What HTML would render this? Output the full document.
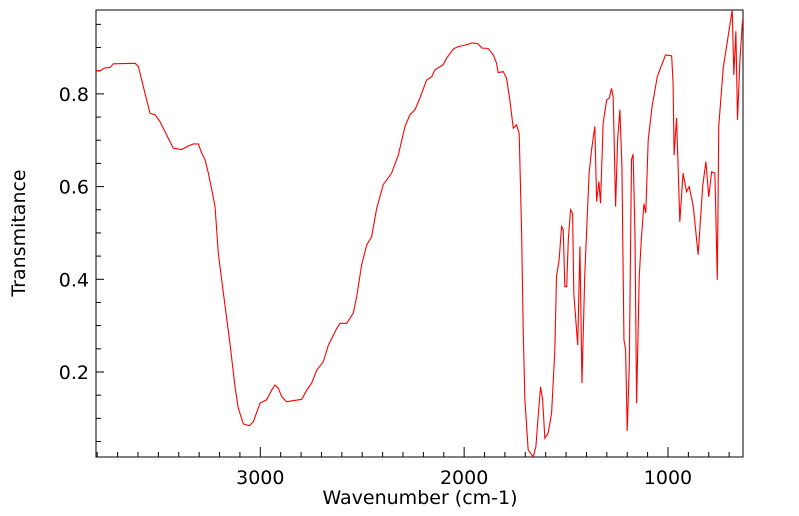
<!DOCTYPE html>
<html><head><meta charset="utf-8">
<style>
html,body{margin:0;padding:0;background:#fff;}
svg{display:block;font-family:"DejaVu Sans","Liberation Sans",sans-serif;}
</style></head>
<body>
<svg id="chart" width="799" height="516" viewBox="0 0 799 516" xmlns="http://www.w3.org/2000/svg">
<defs><clipPath id="plotclip"><rect x="96" y="10" width="647" height="447"/></clipPath></defs>
<rect x="96" y="10" width="647" height="447" fill="#fff" stroke="#000" stroke-width="1"/>
<g id="ticks"></g>
<g id="labels" font-size="19" fill="#000"></g>
<path id="line" fill="none" stroke="#ff0000" stroke-width="1.1" clip-path="url(#plotclip)"/>
<text x="420" y="504" text-anchor="middle" font-size="19">Wavenumber (cm-1)</text>
<text transform="translate(25,233) rotate(-90)" text-anchor="middle" font-size="19">Transmitance</text>
</svg>
<script>
const wavenumbers=[3811,3786,3762,3737,3721,3614,3598,3574,3541,3516,3492,3443,3427,3385,3361,3329,3304,3287,3271,3255,3238,3222,3206,3181,3149,3124,3108,3083,3054,3034,3001,2969,2944,2928,2912,2895,2871,2797,2772,2748,2723,2691,2666,2625,2609,2576,2544,2527,2503,2478,2454,2429,2397,2356,2323,2290,2266,2241,2217,2184,2159,2143,2103,2086,2053,2029,1988,1963,1931,1914,1882,1857,1841,1833,1808,1792,1775,1759,1743,1730,1718,1710,1702,1686,1661,1648,1637,1625,1615,1604,1588,1571,1555,1547,1534,1522,1514,1506,1497,1489,1478,1468,1462,1443,1432,1422,1408,1394,1387,1375,1359,1350,1339,1331,1318,1301,1288,1277,1269,1257,1247,1236,1226,1216,1208,1200,1190,1179,1171,1162,1154,1141,1130,1118,1109,1097,1078,1053,1040,1012,982,975,970,958,942,926,909,896,876,852,830,814,800,786,770,758,751,729,705,685,677,667,659,647,634];
const transmittance=[0.850,0.850,0.856,0.857,0.865,0.866,0.859,0.816,0.758,0.755,0.740,0.697,0.683,0.680,0.686,0.692,0.692,0.672,0.658,0.629,0.593,0.557,0.456,0.370,0.262,0.168,0.122,0.088,0.084,0.093,0.133,0.140,0.161,0.172,0.165,0.147,0.136,0.141,0.161,0.176,0.204,0.222,0.258,0.294,0.305,0.305,0.327,0.363,0.431,0.474,0.492,0.553,0.604,0.629,0.668,0.730,0.755,0.766,0.791,0.830,0.837,0.852,0.863,0.877,0.897,0.902,0.906,0.910,0.908,0.899,0.898,0.884,0.866,0.846,0.848,0.834,0.784,0.726,0.733,0.715,0.499,0.284,0.140,0.032,0.017,0.039,0.104,0.168,0.140,0.057,0.068,0.111,0.248,0.406,0.442,0.514,0.507,0.384,0.384,0.485,0.550,0.542,0.370,0.258,0.471,0.176,0.413,0.557,0.629,0.679,0.730,0.568,0.611,0.564,0.737,0.787,0.791,0.812,0.794,0.557,0.701,0.766,0.643,0.269,0.248,0.073,0.212,0.658,0.670,0.499,0.133,0.406,0.492,0.563,0.543,0.701,0.773,0.836,0.852,0.884,0.882,0.823,0.668,0.748,0.524,0.629,0.589,0.600,0.557,0.453,0.600,0.654,0.578,0.632,0.629,0.399,0.730,0.856,0.924,0.981,0.841,0.935,0.744,0.874,0.960];
const xTickLabels=[3000,2000,1000];
const yTickLabels=[0.2,0.4,0.6,0.8];
const xDomain=[3806,632], yDomain=[0.0166,0.981];
const L=96,R=743,T=10,B=457;
function xs(v){return L+(v-xDomain[0])/(xDomain[1]-xDomain[0])*(R-L);}
function ys(v){return B-(v-yDomain[0])/(yDomain[1]-yDomain[0])*(B-T);}
const NS="http://www.w3.org/2000/svg";
const tk=document.getElementById('ticks'), lb=document.getElementById('labels');
function line(x1,y1,x2,y2){const l=document.createElementNS(NS,'line');l.setAttribute('x1',x1);l.setAttribute('y1',y1);l.setAttribute('x2',x2);l.setAttribute('y2',y2);l.setAttribute('stroke','#000');l.setAttribute('stroke-width','1');


tk.appendChild(l);}
for(let w=700;w<=3800;w+=100){const x=xs(w);const major=w%1000===0;line(x,B,x,B-(major?10:5));}
for(let k=1;k<=19;k++){const v=k*0.05;const y=ys(v);const major=k%4===0;line(L,y,L+(major?8:5),y);}
xTickLabels.forEach(v=>{const t=document.createElementNS(NS,'text');t.setAttribute('x',xs(v));t.setAttribute('y',B+27);t.setAttribute('text-anchor','middle');t.textContent=String(v);


lb.appendChild(t);});
yTickLabels.forEach(v=>{const t=document.createElementNS(NS,'text');t.setAttribute('x',L-7);t.setAttribute('y',ys(v)+7);t.setAttribute('text-anchor','end');t.textContent=v.toFixed(1);


lb.appendChild(t);});
let d='';
wavenumbers.forEach((w,i)=>{d+=(i?'L':'M')+xs(w).toFixed(2)+','+ys(transmittance[i]).toFixed(2);});
document.getElementById('line').setAttribute('d',d);
</script>
</body></html>
